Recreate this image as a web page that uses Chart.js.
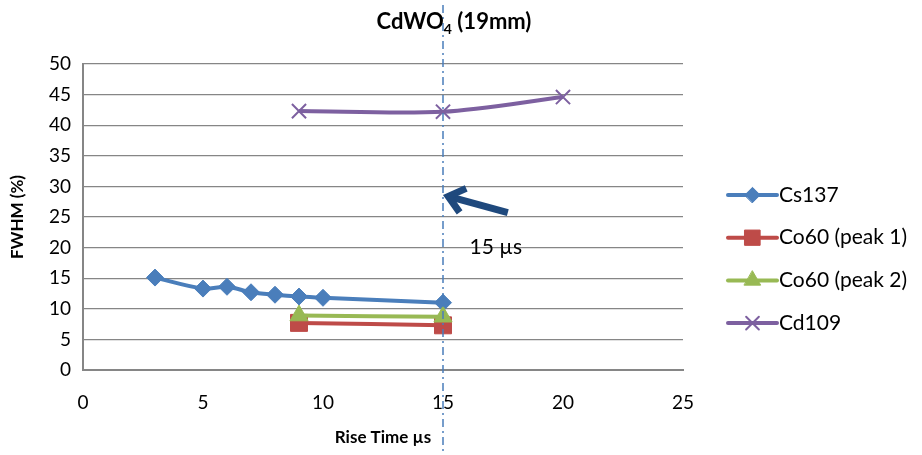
<!DOCTYPE html>
<html>
<head>
<meta charset="utf-8">
<script src="https://cdn.jsdelivr.net/npm/chart.js@4/dist/chart.umd.min.js"></script>
<style>
  html, body { margin: 0; background: #fff; }
</style>
</head>
<body>
<canvas id="chart" width="922" height="455"></canvas>
<script>
// values
const cs137X = [3, 5, 6, 7, 8, 9, 10, 15];
const cs137Y = [15.1, 13.3, 13.6, 12.7, 12.3, 12.0, 11.8, 11.0];
const co60Peak1X = [9, 15];
const co60Peak1Y = [7.7, 7.3];
const co60Peak2X = [9, 15];
const co60Peak2Y = [8.9, 8.7];
const cd109X = [9, 15, 20];
const cd109Y = [42.3, 42.2, 44.6];

const xTicks = [0, 5, 10, 15, 20, 25];
const yTicks = [0, 5, 10, 15, 20, 25, 30, 35, 40, 45, 50];

// annotation: marker line at 15 µs, arrow and label
const markerX = 15;
const arrowTail = { x: 17.7, y: 25.7 };
const arrowTip = { x: 15.1, y: 28.5 };
const noteAt = { x: 17.2, y: 20 };
const noteText = "15 µs";

const FONT = "Lato, 'Open Sans', sans-serif";

const toPoints = (xs, ys) => xs.map((x, i) => ({ x, y: ys[i] }));

const datasets = [
  { label: "Cs137", data: toPoints(cs137X, cs137Y), color: "#4a7ebb", pointStyle: "rectRot", pointRadius: 8.5 },
  { label: "Co60 (peak 1)", data: toPoints(co60Peak1X, co60Peak1Y), color: "#be4b48", pointStyle: "rect", pointRadius: 12 },
  { label: "Co60 (peak 2)", data: toPoints(co60Peak2X, co60Peak2Y), color: "#98b954", pointStyle: "triangle", pointRadius: 10.5 },
  { label: "Cd109", data: toPoints(cd109X, cd109Y), color: "#7d60a0", pointStyle: "crossRot", pointRadius: 10 },
].map((d, i, all) => ({
  label: d.label,
  data: d.data,
  order: all.length - i, // later series drawn on top, like the original
  showLine: true,
  tension: 0.3,
  borderColor: d.color,
  backgroundColor: d.color,
  borderWidth: 4,
  pointStyle: d.pointStyle,
  pointRadius: d.pointRadius,
  pointHoverRadius: d.pointRadius,
  pointBorderWidth: d.pointStyle === "crossRot" ? 2 : 1,
  pointBorderColor: d.color,
  pointBackgroundColor: d.color,
}));

const titlePlugin = {
  id: "subTitle",
  afterDraw(chart) {
    const ctx = chart.ctx;
    ctx.save();
    ctx.fillStyle = "#000";
    ctx.textBaseline = "alphabetic";
    const big = "bold 22px " + FONT;
    const small = "bold 14px " + FONT;
    ctx.font = big;
    const w1 = ctx.measureText("CdWO").width;
    const w3 = ctx.measureText(" (19mm)").width;
    ctx.font = small;
    const w2 = ctx.measureText("4").width;
    let x = 454 - (w1 + w2 + w3) / 2;
    const y = 29;
    ctx.font = big;
    ctx.fillText("CdWO", x, y);
    x += w1;
    ctx.font = small;
    ctx.fillText("4", x, y + 5);
    x += w2;
    ctx.font = big;
    ctx.fillText(" (19mm)", x, y);
    ctx.restore();
  }
};

const notePlugin = {
  id: "notes",
  afterDatasetsDraw(chart) {
    const { ctx, scales: { x, y } } = chart;
    ctx.save();
    // dash-dot marker line
    const mx = x.getPixelForValue(markerX);
    ctx.strokeStyle = "#4a7ebb";
    ctx.lineWidth = 1.5;
    ctx.setLineDash([8, 4, 2, 4]);
    ctx.beginPath();
    ctx.moveTo(mx, 5);
    ctx.lineTo(mx, chart.height);
    ctx.stroke();
    ctx.setLineDash([]);

    // arrow
    const tx = x.getPixelForValue(arrowTail.x), ty = y.getPixelForValue(arrowTail.y);
    const hx = x.getPixelForValue(arrowTip.x), hy = y.getPixelForValue(arrowTip.y);
    const ang = Math.atan2(ty - hy, tx - hx);
    ctx.strokeStyle = "#1f497d";
    ctx.lineWidth = 7;
    ctx.lineCap = "butt";
    ctx.lineJoin = "miter";
    ctx.beginPath();
    ctx.moveTo(tx, ty);
    ctx.lineTo(hx + Math.cos(ang) * 4, hy + Math.sin(ang) * 4);
    ctx.stroke();
    ctx.beginPath();
    const hl = 22, spread = 0.6;
    ctx.moveTo(hx + Math.cos(ang - spread) * hl, hy + Math.sin(ang - spread) * hl);
    ctx.lineTo(hx + Math.cos(ang) * 3, hy + Math.sin(ang) * 3);
    ctx.lineTo(hx + Math.cos(ang + spread) * hl, hy + Math.sin(ang + spread) * hl);
    ctx.stroke();

    // label
    ctx.fillStyle = "#000";
    ctx.font = "21px " + FONT;
    ctx.textAlign = "center";
    ctx.textBaseline = "middle";
    ctx.fillText(noteText, x.getPixelForValue(noteAt.x), y.getPixelForValue(noteAt.y));
    ctx.restore();
  }
};

const legendPlugin = {
  id: "sideLegend",
  afterDraw(chart) {
    const ctx = chart.ctx;
    const x0 = chart.chartArea.right + 45;
    const x1 = x0 + 49;
    let yy = 195;
    ctx.save();
    chart.data.datasets.forEach(ds => {
      ctx.strokeStyle = ds.borderColor;
      ctx.lineWidth = 4;
      ctx.lineCap = "round";
      ctx.beginPath();
      ctx.moveTo(x0, yy);
      ctx.lineTo(x1, yy);
      ctx.stroke();
      ctx.fillStyle = ds.backgroundColor;
      ctx.strokeStyle = ds.borderColor;
      ctx.lineWidth = ds.pointBorderWidth;
      Chart.helpers.drawPoint(ctx, {
        pointStyle: ds.pointStyle,
        radius: ds.pointRadius * 0.9,
        rotation: 0,
        borderWidth: ds.pointBorderWidth
      }, (x0 + x1) / 2, yy);
      ctx.fillStyle = "#000";
      ctx.font = "21px " + FONT;
      ctx.textAlign = "left";
      ctx.textBaseline = "middle";
      ctx.fillText(ds.label, x1 + 2, yy);
      yy += 42.7;
    });
    ctx.restore();
  }
};

new Chart(document.getElementById("chart"), {
  type: "scatter",
  data: { datasets },
  plugins: [titlePlugin, notePlugin, legendPlugin],
  options: {
    responsive: false,
    animation: false,
    layout: { padding: { top: 64, right: 239, left: 0, bottom: 0 } },
    plugins: {
      legend: { display: false },
      title: { display: false },
      tooltip: { enabled: false },
    },
    scales: {
      x: {
        type: "linear",
        min: 0,
        max: 25,
        afterBuildTicks: s => { s.ticks = xTicks.map(v => ({ value: v })); },
        afterFit: s => { s.height = 85; },
        grid: { display: false, drawTicks: false },
        border: { display: true, color: "#868686", width: 2 },
        ticks: { color: "#000", font: { family: FONT, size: 19 }, padding: 21, maxRotation: 0 },
        title: {
          display: true,
          text: "Rise Time µs",
          color: "#000",
          font: { family: FONT, size: 17, weight: "bold" },
          padding: { top: 0, bottom: 7 },
        },
      },
      y: {
        min: 0,
        max: 50,
        afterBuildTicks: s => { s.ticks = yTicks.map(v => ({ value: v })); },
        afterFit: s => { s.width = 83; },
        grid: { color: "#868686", lineWidth: 1.2, drawTicks: false },
        border: { display: true, color: "#868686", width: 2 },
        ticks: { color: "#000", font: { family: FONT, size: 19 }, padding: 12 },
        title: {
          display: true,
          text: "FWHM (%)",
          color: "#000",
          font: { family: FONT, size: 17, weight: "bold" },
          padding: { top: 7, bottom: 0 },
        },
      },
    },
  },
});
</script>
</body>
</html>
